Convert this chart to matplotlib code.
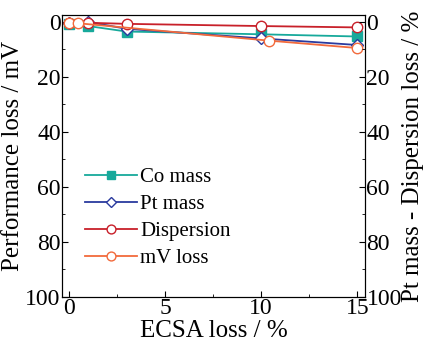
import matplotlib
matplotlib.use("Agg")
import matplotlib.pyplot as plt
from matplotlib.ticker import MultipleLocator

plt.rcParams["font.family"] = ["Liberation Serif", "DejaVu Serif"]
plt.rcParams["mathtext.fontset"] = "stix"

# data
co_x = [0, 1, 3, 10, 15]
co_y = [0.7, 1.5, 3.5, 4.5, 5.3]

pt_x = [0, 1, 3, 10, 15]
pt_y = [0.5, 0.0, 2.5, 6.0, 8.4]

disp_x = [0, 1, 3, 10, 15]
disp_y = [0.3, 0.3, 0.7, 1.5, 2.0]

mv_x = [0, 0.5, 10.4, 15]
mv_y = [0.5, 0.5, 6.8, 9.5]

fig = plt.figure(figsize=(4.25, 3.42), dpi=100)
ax = fig.add_axes([0.146, 0.132, 0.713, 0.824])

ax.plot(co_x, co_y, "-s", color="#17a99b", mfc="#17a99b", mec="#17a99b",
        ms=6.5, lw=1.3, label="Co mass", clip_on=False)
ax.plot(pt_x, pt_y, "-D", color="#2a3a9e", mfc="white", mec="#2a3a9e",
        ms=6.5, lw=1.3, label="Pt mass", clip_on=False)
ax.plot(disp_x, disp_y, "-o", color="#c8202a", mfc="white", mec="#c8202a",
        ms=7.5, lw=1.3, label="Dispersion", clip_on=False)
ax.plot(mv_x, mv_y, "-o", color="#f26a3c", mfc="white", mec="#f26a3c",
        ms=7.5, lw=1.3, label="mV loss", clip_on=False)

ax.set_xlim(-0.35, 15.4)
ax.set_ylim(100, -2.5)
ax.xaxis.set_major_locator(MultipleLocator(5))
ax.xaxis.set_minor_locator(MultipleLocator(2.5))
ax.yaxis.set_major_locator(MultipleLocator(20))
ax.yaxis.set_minor_locator(MultipleLocator(10))
ax.tick_params(which="both", direction="in", labelsize=17, pad=1)
ax.tick_params(which="major", length=4)
ax.tick_params(which="minor", length=2)
ax.set_xlabel("ECSA loss / %", fontsize=18, labelpad=0.5)
ax.set_ylabel("Performance loss / mV", fontsize=18, labelpad=1)

ax2 = ax.twinx()
ax2.set_ylim(100, -2.5)
ax2.yaxis.set_major_locator(MultipleLocator(20))
ax2.yaxis.set_minor_locator(MultipleLocator(10))
ax2.tick_params(which="both", direction="in", labelsize=17, pad=1)
ax2.tick_params(which="major", length=4)
ax2.tick_params(which="minor", length=2)
ax2.set_ylabel("Pt mass - Dispersion loss / %", fontsize=18, labelpad=0)

leg = ax.legend(loc="upper left", bbox_to_anchor=(0.075, 0.458), frameon=False,
                fontsize=15, handlelength=2.5, handletextpad=0.15,
                labelspacing=0.35, borderaxespad=0, borderpad=0,
                markerscale=0.85)

fig.savefig("out.png", dpi=100)
